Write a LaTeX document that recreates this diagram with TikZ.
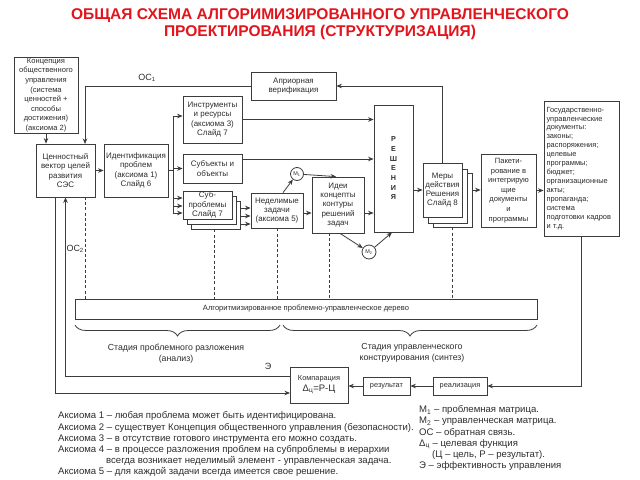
\documentclass[tikz,border=0pt]{standalone}
\usepackage{fontspec}
\setmainfont{Liberation Sans}
\usetikzlibrary{arrows.meta,decorations.pathreplacing}
\definecolor{ttlred}{RGB}{226,20,28}
\definecolor{lncol}{RGB}{60,60,60}
\definecolor{txcol}{RGB}{45,45,45}
\newcommand{\fsz}[2]{\fontsize{#1}{#2}\selectfont}
\newcommand{\sbs}[1]{\textsubscript{#1}}
\begin{document}
\begin{tikzpicture}[x=1bp,y=-1bp,
 box/.style={draw=lncol,line width=0.8bp,fill=white,inner sep=0pt,align=center,text=txcol,font=\fsz{8}{9.3}},
 arr/.style={draw=lncol,line width=0.8bp,-{Stealth[length=5.5bp,width=4.5bp]}},
 wire/.style={draw=lncol,line width=0.8bp},
 dsh/.style={draw=lncol,line width=0.8bp,dash pattern=on 3bp off 2.2bp},
 circ/.style={draw=lncol,line width=0.8bp,circle,fill=white,inner sep=0pt,text=txcol,font=\fsz{5.5}{5.5}},
 lbl/.style={text=txcol,inner sep=0pt},
 lg/.style={text=txcol,inner sep=0pt,anchor=west,font=\fsz{9.6}{11}}]
\useasboundingbox (0,0) rectangle (640,480);
\fill[white] (0,0) rectangle (640,480);

% title
\node[lbl,text=ttlred,font=\bfseries\fsz{15.6}{17},align=center] (title) at (320,24)
 {ОБЩАЯ СХЕМА АЛГОРИМИЗИРОВАННОГО УПРАВЛЕНЧЕСКОГО\\ПРОЕКТИРОВАНИЯ (СТРУКТУРИЗАЦИЯ)};

% boxes
\node[box,minimum width=64bp,minimum height=76bp,font=\fsz{7.6}{9.6}] (konc) at (46,95)
 {Концепция\\общественного\\управления\\(система\\ценностей +\\способы\\достижения)\\(аксиома 2)};
\node[box,minimum width=59bp,minimum height=53bp] (cen) at (65.5,170.5)
 {Ценностный\\вектор целей\\развития\\СЭС};
\node[box,minimum width=64bp,minimum height=53bp] (ident) at (136,170.5)
 {Идентификация\\проблем\\(аксиома 1)\\Слайд 6};
\node[box,minimum width=59bp,minimum height=47bp] (instr) at (212.5,119.5)
 {Инструменты\\и ресурсы\\(аксиома 3)\\Слайд 7};
\node[box,minimum width=59bp,minimum height=29bp] (subj) at (212.5,168.5)
 {Субъекты и\\объекты};
\node[box,minimum width=49bp,minimum height=28bp] (sub3) at (215.5,215) {};
\node[box,minimum width=49bp,minimum height=28bp] (sub2) at (211.5,210) {};
\node[box,minimum width=49bp,minimum height=28bp] (sub1) at (207.5,205)
 {Суб-\\проблемы\\Слайд 7};
\node[box,minimum width=52bp,minimum height=35bp] (nedel) at (277,210.5)
 {Неделимые\\задачи\\(аксиома 5)};
\node[box,minimum width=52bp,minimum height=56bp] (idei) at (338,205)
 {Идеи\\концепты\\контуры\\решений\\задач};
\node[box,minimum width=39bp,minimum height=127bp,font=\bfseries\fsz{7.2}{9.7}] (resh) at (393.5,168.5)
 {Р\\Е\\Ш\\Е\\Н\\И\\Я};
\node[box,minimum width=85bp,minimum height=28bp] (apr) at (293.5,86)
 {Априорная\\верификация};
\node[box,minimum width=39bp,minimum height=54bp] (mery3) at (452.5,200) {};
\node[box,minimum width=39bp,minimum height=54bp] (mery2) at (447.5,196) {};
\node[box,minimum width=39bp,minimum height=54bp] (mery) at (442.5,190)
 {Меры\\действия\\Решения\\Слайд 8};
\node[box,minimum width=55bp,minimum height=73bp,font=\fsz{7.6}{9.6}] (pak) at (508.5,190.5)
 {Пакети-\\рование в\\интегрирую\\щие\\документы\\и\\программы};
\node[box,minimum height=135bp,text width=70bp,inner xsep=2.5bp,align=left,font=\fsz{7.5}{9}] (gos) at (581.5,168.5)
 {Государственно-\\управленческие\\документы:\\законы;\\распоряжения;\\целевые\\программы;\\бюджет;\\организационные\\акты;\\пропаганда;\\система\\подготовки кадров\\и т.д.};
\node[box,minimum width=462bp,minimum height=20bp,font=\fsz{7.6}{9}] (tree) at (306,309)
 {Алгоритмизированное проблемно-управленческое дерево};
\node[box,minimum width=58bp,minimum height=36bp,font=\fsz{7.4}{11}] (komp) at (319,385)
 {Компарация\\{\fsz{9.5}{11}Δ\sbs{ц}=Р-Ц}};
\node[box,minimum width=47bp,minimum height=18bp,font=\fsz{7.4}{9}] (rez) at (386.5,386) {результат};
\node[box,minimum width=54bp,minimum height=18bp,font=\fsz{7.4}{9}] (real) at (460,386) {реализация};
\node[circ,minimum size=13bp] (m1) at (297,174) {M\sbs{1}};
\node[circ,minimum size=14bp] (m2) at (369,252) {M\sbs{2}};

% labels
\node[lbl,font=\fsz{9}{10}] (oc1) at (147,78) {ОС\sbs{1}};
\node[lbl,font=\fsz{9}{10},anchor=east] (oc2) at (84,249) {ОС\sbs{2}};
\node[lbl,font=\fsz{9}{10}] (elbl) at (268,366) {Э};
\node[lbl,font=\fsz{8.8}{11},align=center] (st1) at (176,353.5) {Стадия проблемного разложения\\(анализ)};
\node[lbl,font=\fsz{8.8}{11},align=center] (st2) at (412,352.5) {Стадия управленческого\\конструирования (синтез)};

% coordinates
\coordinate (c85) at (85,144);
\coordinate (bA) at (173,116);
\coordinate (bB) at (173,168.5);
\coordinate (bC1) at (173,198);
\coordinate (bC2) at (173,206);
\coordinate (bC3) at (173,213);
\coordinate (s1) at (242,159);
\coordinate (a1) at (240,208);
\coordinate (a2) at (240,216);
\coordinate (a3) at (240,224);
\coordinate (n1) at (303,213);
\coordinate (i1) at (364,213);
\coordinate (dc) at (85,197);
\coordinate (di) at (329,233);
\coordinate (e1) at (290,376);
\coordinate (t0) at (55,197);
\coordinate (t1) at (290,393);

% connectors
\draw[arr] (konc.south) -- (konc.south |- cen.north);
\draw[arr] (apr.west) -| (c85);
\draw[arr] (cen.east) -- (ident.west);
\draw[wire] (ident.east) -- (ident.east -| bA);
\draw[wire] (bA) -- (bC3);
\draw[arr] (bA) -- (bA -| instr.west);
\draw[arr] (bB) -- (bB -| subj.west);
\draw[arr] (bC1) -- (bC1 -| sub1.west);
\draw[arr] (bC2) -- (bC2 -| sub1.west);
\draw[arr] (bC3) -- (bC3 -| sub1.west);
\draw[arr] (instr.east) -- (instr.east -| resh.west);
\draw[arr] (s1) -- (s1 -| resh.west);
\draw[arr] (a1) -- (a1 -| nedel.west);
\draw[arr] (a2) -- (a2 -| nedel.west);
\draw[arr] (a3) -- (a3 -| nedel.west);
\draw[arr] (n1) -- (n1 -| idei.west);
\draw[arr] (i1) -- (i1 -| resh.west);
\draw[arr] ([xshift=6bp]nedel.north) -- (m1);
\draw[arr] (m1) -- ([xshift=-2bp]idei.north);
\draw[arr] ([xshift=2bp]idei.south) -- (m2);
\draw[arr] (m2) -- ([xshift=-1.5bp]resh.south);
\draw[arr] (resh.east |- mery.west) -- (mery.west);
\draw[arr] (mery.west -| mery3.east) -- (mery.west -| pak.west);
\draw[arr] (pak.east) -- (pak.east -| gos.west);
\draw[arr] (mery.north) |- (apr.east);

% dashed
\draw[dsh] (dc) -- (dc |- tree.north);
\draw[dsh] ([xshift=-1.5bp]sub3.south) -- ([xshift=-1.5bp]sub3.south |- tree.north);
\draw[dsh] (nedel.south) -- (nedel.south |- tree.north);
\draw[dsh] (di) -- (di |- tree.north);
\draw[dsh] (mery3.south) -- (mery3.south |- tree.north);

% loop
\draw[arr] (e1) -| (cen.south);
\draw[arr] (t0) |- (t1);
\draw[arr] (gos.south) |- (real.east);
\draw[arr] (real.west) -- (rez.east);
\draw[arr] (rez.west) -- (rez.west -| komp.east);

% braces
\draw[wire,decorate,decoration={brace,mirror,amplitude=11bp}] (75,325) -- (280,325);
\draw[wire,decorate,decoration={brace,mirror,amplitude=11bp}] (283,325) -- (537,325);

% legend
\node[lg] (ax1) at (58,416) {Аксиома 1 – любая проблема может быть идентифицирована.};
\node[lg] (ax2) at (58,427.5) {Аксиома 2 – существует Концепция общественного управления (безопасности).};
\node[lg] (ax3) at (58,439) {Аксиома 3 – в отсутствие готового инструмента его можно создать.};
\node[lg] (ax4) at (58,450) {Аксиома 4 – в процессе разложения проблем на субпроблемы в иерархии};
\node[lg] (ax5) at (106,461) {всегда возникает неделимый элемент - управленческая задача.};
\node[lg] (ax6) at (58,472) {Аксиома 5 – для каждой задачи всегда имеется свое решение.};
\node[lg] (mm1) at (419,410) {M\sbs{1} – проблемная матрица.};
\node[lg] (mm2) at (419,421.5) {M\sbs{2} – управленческая матрица.};
\node[lg] (mm3) at (419,433) {ОС – обратная связь.};
\node[lg] (mm4) at (419,444) {Δ\sbs{ц} – целевая функция};
\node[lg] (mm5) at (432,455) {(Ц – цель, Р – результат).};
\node[lg] (mm6) at (419,466) {Э – эффективность управления};
\end{tikzpicture}
\end{document}
